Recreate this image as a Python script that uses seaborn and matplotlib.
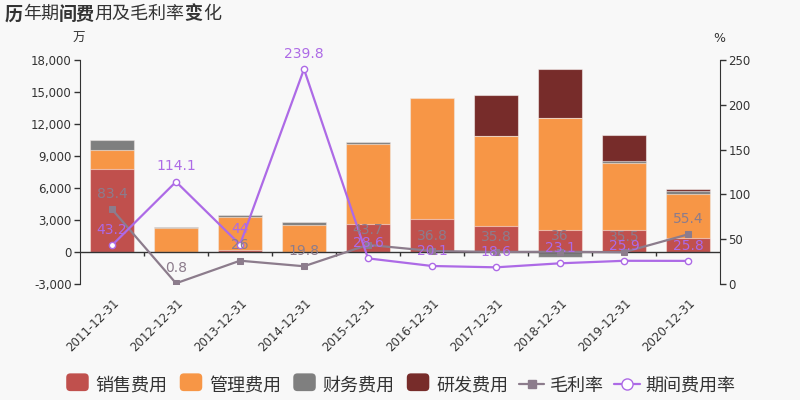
import numpy as np
import pandas as pd
import matplotlib
matplotlib.use("Agg")
import matplotlib.pyplot as plt
from matplotlib.text import Annotation
from matplotlib.patches import FancyBboxPatch, Patch
from matplotlib.lines import Line2D
from matplotlib.legend_handler import HandlerPatch
import seaborn as sns

years = ["2011-12-31", "2012-12-31", "2013-12-31", "2014-12-31", "2015-12-31",
         "2016-12-31", "2017-12-31", "2018-12-31", "2019-12-31", "2020-12-31"]
sales = [7800, 0, 150, 0, 2620, 3090, 2470, 2060, 2060, 1280]
admin = [1800, 2250, 3160, 2530, 7500, 11310, 8400, 10500, 6250, 4160]
finance = [900, 80, 160, 250, 190, 0, 0, -500, 190, 300]
rnd = [0, 0, 0, 0, 0, 0, 3840, 4560, 2430, 200]
gross_margin = [83.4, 0.8, 26, 19.8, 43.7, 36.8, 35.8, 36, 35.5, 55.4]
expense_rate = [43.2, 114.1, 44, 239.8, 28.6, 20.1, 18.6, 23.1, 25.9, 25.8]

C_SALES = "#c0504d"
C_ADMIN = "#f79646"
C_FIN = "#7f7f7f"
C_RND = "#772c2a"
C_GM = "#8c7c8c"
C_ER = "#ad6ae6"
BG = "#f8f8f8"
TXT = "#333333"

sns.set_style("white")
plt.rcParams["font.family"] = ["DejaVu Sans", "Noto Sans CJK SC"]
CJK = ["Noto Sans CJK SC", "DejaVu Sans"]

df = pd.DataFrame({"year": years, "sales": sales, "admin": admin,
                   "finance": finance, "rnd": rnd})
pos_fin = df["finance"].clip(lower=0)
df["c1"] = df["sales"]
df["c2"] = df["c1"] + df["admin"]
df["c3"] = df["c2"] + pos_fin
df["c4"] = df["c3"] + df["rnd"]
df["neg"] = df["finance"].clip(upper=0)

fig = plt.figure(figsize=(8, 4), dpi=100, facecolor=BG)
ax = fig.add_axes([0.1, 0.29, 0.8, 0.56])
ax.set_facecolor(BG)

# stacked bars drawn as overlapping cumulative totals (negative finance on its own)
bw = 0.69
edge = dict(edgecolor=(1, 1, 1, 0.5), linewidth=0.8)
for col, color in [("c4", C_RND), ("c3", C_FIN), ("c2", C_ADMIN), ("c1", C_SALES), ("neg", C_FIN)]:
    sns.barplot(data=df, x="year", y=col, color=color, width=bw, ax=ax,
                saturation=1, **edge)

ax.set_ylim(-3000, 18000)
ax.set_yticks(np.arange(-3000, 18001, 3000))
ax.set_yticklabels([f"{v:,}" for v in range(-3000, 18001, 3000)])
ax.set_xlim(-0.5, 9.5)
ax.set_xlabel("")
ax.set_ylabel("")
ax.tick_params(axis="y", length=4, width=1, color=TXT, labelsize=8.5, labelcolor=TXT, pad=2)
ax.tick_params(axis="x", length=0, labelsize=8.5, labelcolor=TXT, pad=9)
for lab in ax.get_xticklabels():
    lab.set_rotation(45)
    lab.set_ha("right")
    lab.set_va("top")
    lab.set_rotation_mode("anchor")
for s in ["top", "right", "bottom"]:
    ax.spines[s].set_visible(False)
ax.spines["left"].set_color(TXT)
ax.axhline(0, color=TXT, lw=1, zorder=3)
ax.vlines(np.arange(0.5, 9.5, 1), -400, 0, color=TXT, lw=1, zorder=3)

ax2 = ax.twinx()
ax2.set_ylim(0, 250)
ax2.set_yticks(np.arange(0, 251, 50))
sns.lineplot(x=np.arange(10), y=gross_margin, ax=ax2, color=C_GM, lw=1.6,
             marker="s", markersize=5, markeredgecolor=C_GM, zorder=4)
sns.lineplot(x=np.arange(10), y=expense_rate, ax=ax2, color=C_ER, lw=1.6,
             marker="o", markersize=4.5, markerfacecolor="white",
             markeredgecolor=C_ER, markeredgewidth=1, zorder=5)
for i, v in enumerate(gross_margin):
    ax2.annotate(f"{v:g}", (i, v), xytext=(0, 11), textcoords="offset points",
                 ha="center", va="center", fontsize=10, color=C_GM, zorder=6)
for i, v in enumerate(expense_rate):
    ax2.annotate(f"{v:g}", (i, v), xytext=(0, 11), textcoords="offset points",
                 ha="center", va="center", fontsize=10, color=C_ER, zorder=7)
for s in ["top", "left", "bottom"]:
    ax2.spines[s].set_visible(False)
ax2.spines["right"].set_color(TXT)
ax2.tick_params(axis="y", length=4, width=1, color=TXT, labelsize=8.5, labelcolor=TXT, pad=2)
ax2.set_ylabel("")

fig.text(0.099, 0.905, "万", ha="center", va="center", fontsize=9, color=TXT, family=CJK)
fig.text(0.899, 0.903, "%", ha="center", va="center", fontsize=9, color=TXT)

# title with mixed weights, each piece placed right after the previous one
title_parts = [("历", "bold"), ("年期", "normal"), ("间费", "bold"),
               ("用及毛利率", "normal"), ("变", "bold"), ("化", "normal")]
anchor = fig.text(0.006, 0.965, title_parts[0][0], ha="left", va="center",
                  fontsize=13, color=TXT, family=CJK, fontweight=title_parts[0][1])
for txt, w in title_parts[1:]:
    anchor = fig.add_artist(Annotation(
        txt, xy=(1, 0.5), xycoords=anchor, ha="left", va="center",
        fontsize=13, color=TXT, family=CJK, fontweight=w))


class RoundBox(HandlerPatch):
    def create_artists(self, legend, orig, xd, yd, w, h, fs, trans):
        p = FancyBboxPatch((xd + 1, yd - 1), w - 2, h + 2,
                           boxstyle="round,pad=0,rounding_size=3",
                           facecolor=orig.get_facecolor(), edgecolor="none",
                           transform=trans)
        return [p]


handles = [Patch(color=C_SALES), Patch(color=C_ADMIN), Patch(color=C_FIN), Patch(color=C_RND),
           Line2D([], [], color=C_GM, marker="s", markersize=6, lw=1.6),
           Line2D([], [], color=C_ER, marker="o", markersize=8, markerfacecolor="white", lw=1.6)]
labels = ["销售费用", "管理费用", "财务费用", "研发费用", "毛利率", "期间费用率"]
fig.legend(handles, labels, loc="center", bbox_to_anchor=(0.5, 0.035), ncol=6,
           frameon=False, handlelength=1.4, handleheight=0.9,
           handletextpad=0.3, columnspacing=0.6, labelcolor=TXT,
           prop={"family": CJK, "size": 13},
           handler_map={Patch: RoundBox()})

fig.savefig("out.png", dpi=100, facecolor=BG)
